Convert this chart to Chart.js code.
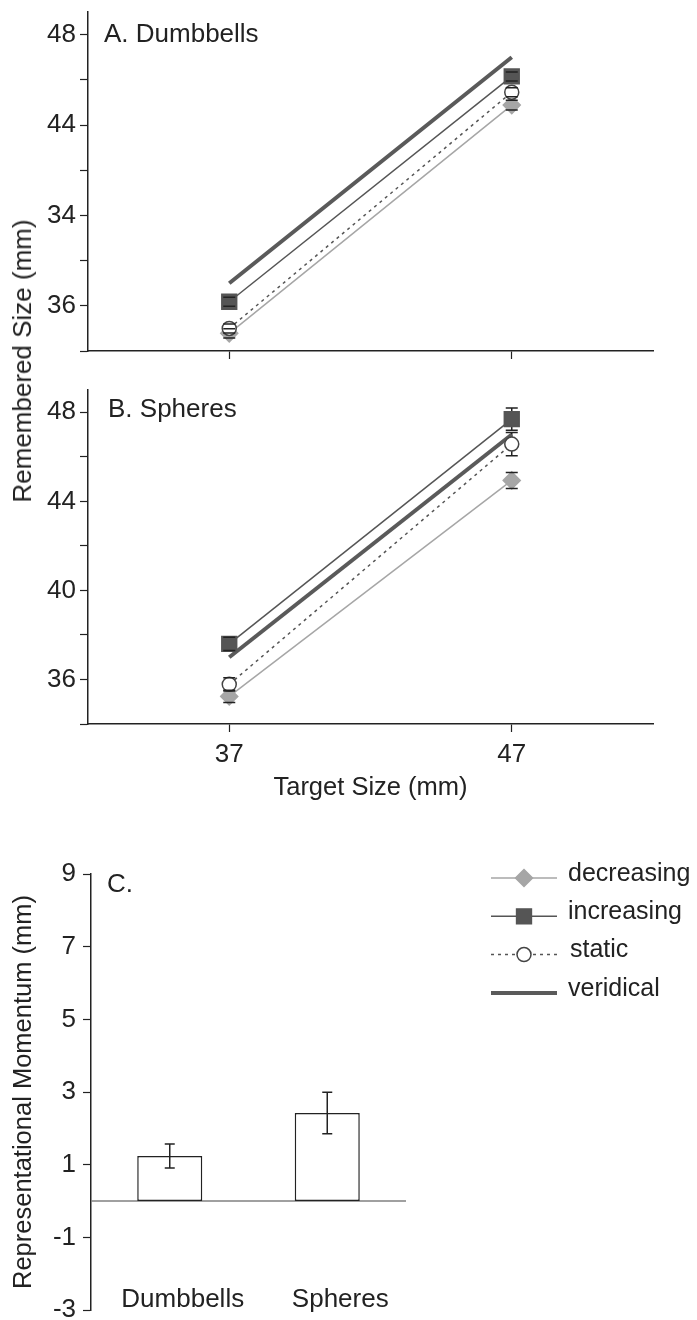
<!DOCTYPE html>
<html><head><meta charset="utf-8">
<script src="https://cdn.jsdelivr.net/npm/chart.js@4.4.1/dist/chart.umd.min.js"></script>
<style>
html,body{margin:0;padding:0;background:#fff;}
body{width:697px;height:1320px;position:relative;overflow:hidden;font-family:'Liberation Sans',Arial,sans-serif;}
canvas{position:absolute;left:0;}
#ytitleAB{position:absolute;left:22px;top:361px;transform:translate(-50%,-50%) rotate(-90deg);white-space:nowrap;font-size:26px;color:#222;line-height:1;}
</style></head><body>
<canvas id="cA" width="697" height="370" style="top:0"></canvas>
<canvas id="cB" width="697" height="450" style="top:370px"></canvas>
<canvas id="cC" width="697" height="470" style="top:850px"></canvas>
<div id="ytitleAB">Remembered Size (mm)</div>
<script>
// ---------- DATA ----------
const targetSizes = [37, 47];
const xTickLabels = ["37", "47"];
const yMajorTicks = [36, 40, 44, 48];
const yMinorTicks = [34, 38, 42, 46];
const yTickLabelsA = ["36", "34", "44", "48"];
const yTickLabelsB = ["36", "40", "44", "48"];

const dumbDecreasing = [34.78, 44.88];
const dumbDecreasingErr = [0.2, 0.22];
const dumbIncreasing = [36.18, 46.15];
const dumbIncreasingErr = [0.2, 0.2];
const dumbStatic = [35.0, 45.45];
const dumbStaticErr = [0.2, 0.2];
const dumbVeridical = [37, 47];

const sphDecreasing = [35.24, 44.94];
const sphDecreasingErr = [0.28, 0.36];
const sphIncreasing = [37.6, 47.69];
const sphIncreasingErr = [0.3, 0.5];
const sphStatic = [35.78, 46.57];
const sphStaticErr = [0.3, 0.52];
const sphVeridical = [37, 47];

const categories = ["Dumbbells", "Spheres"];
const momentum = [1.24, 2.42];
const momentumErr = [0.33, 0.57];
const momentumTicks = [-3, -1, 1, 3, 5, 7, 9];

const legendLabels = ["decreasing", "increasing", "static", "veridical"];

// ---------- STYLES ----------
const FONT = "'Liberation Sans', Arial, sans-serif";
const INK = '#222';
const TICKFONT = 26;
const styles = {
  decreasing: {color:'#a6a6a6', point:'rectRot', radius:8.5, fill:'#a6a6a6', stroke:'#a6a6a6', dash:[], width:1.5, order:3},
  increasing: {color:'#555', point:'rect', radius:10.5, fill:'#555', stroke:'#555', dash:[], width:1.5, order:2},
  static: {color:'#555', point:'circle', radius:7, fill:'#fff', stroke:'#444', dash:[3,4], width:1.5, order:1},
  veridical: {color:'#5a5a5a', point:false, radius:0, fill:'#5a5a5a', stroke:'#5a5a5a', dash:[], width:4, order:4}
};

function pts(arr){ return targetSizes.map((x,i)=>({x:x, y:arr[i]})); }
function ds(key, arr, err){
  const s = styles[key];
  return { label:key, data:pts(arr), errors:err, borderColor:s.color, borderWidth:s.width,
    borderDash:s.dash, pointStyle:s.point || 'circle', pointRadius:s.radius, pointHoverRadius:s.radius,
    pointBackgroundColor:s.fill, pointBorderColor:s.stroke, pointBorderWidth:1.5,
    fill:false, tension:0, order:s.order, clip:false };
}

function drawErr(chart, phase){
  const ctx = chart.ctx, ys = chart.scales.y;
  chart.data.datasets.forEach((d, di) => {
    if (!d.errors) return;
    const onTop = !!d.errOnTop;
    let stem, caps;
    if (onTop){ if (phase !== 'after') return; stem = true; caps = true; }
    else { stem = phase === 'before'; caps = phase === 'after'; }
    const meta = chart.getDatasetMeta(di);
    meta.data.forEach((el, i) => {
      const raw = d.data[i];
      const v = (typeof raw === 'object') ? raw.y : raw;
      const e = d.errors[i];
      const x = el.x, y1 = ys.getPixelForValue(v + e), y2 = ys.getPixelForValue(v - e);
      const hw = d.capHalf || 6;
      ctx.save(); ctx.strokeStyle = INK; ctx.lineWidth = 1.5; ctx.setLineDash([]); ctx.beginPath();
      if (stem){ ctx.moveTo(x, y1); ctx.lineTo(x, y2); }
      if (caps){ ctx.moveTo(x-hw, y1); ctx.lineTo(x+hw, y1); ctx.moveTo(x-hw, y2); ctx.lineTo(x+hw, y2); }
      ctx.stroke(); ctx.restore();
    });
  });
}
const errorBarPlugin = {
  id:'errbars',
  beforeDatasetsDraw(chart){ drawErr(chart, 'before'); },
  afterDatasetsDraw(chart){ drawErr(chart, 'after'); }
};
const panelLabelPlugin = {
  id:'panelLabel',
  afterDraw(chart, args, opts){
    if (!opts || !opts.text) return;
    const ctx = chart.ctx; ctx.save();
    ctx.font = `26px ${FONT}`; ctx.fillStyle = INK; ctx.textBaseline = 'middle'; ctx.textAlign = 'left';
    ctx.fillText(opts.text, chart.chartArea.left + opts.dx, chart.chartArea.top + opts.dy);
    ctx.restore();
  }
};

function yScaleAB(labels){
  return {
    type:'linear', min:34, max:49,
    afterBuildTicks: s => { s.ticks = yMinorTicks.concat(yMajorTicks).sort((a,b)=>a-b).map(v=>({value:v})); },
    afterFit: s => { s.width = 88; s.paddingTop = 0; s.paddingBottom = 0; },
    ticks: { autoSkip:false, padding:4, color:INK, font:{family:FONT, size:TICKFONT},
      callback: v => { const i = yMajorTicks.indexOf(v); return i >= 0 ? labels[i] : ''; } },
    grid: { drawOnChartArea:false, drawTicks:true, tickLength:8, tickColor:INK, tickWidth:1.2 },
    border: { display:true, color:INK, width:1.5 }
  };
}
function xScaleAB(showLabels, height){
  return {
    type:'linear', min:32, max:52,
    afterBuildTicks: s => { s.ticks = targetSizes.map(v=>({value:v})); },
    afterFit: s => { s.height = height; s.paddingLeft = 0; s.paddingRight = 0; },
    ticks: { display:showLabels, autoSkip:false, maxRotation:0, padding:7, color:INK, font:{family:FONT, size:TICKFONT},
      callback: v => { const i = targetSizes.indexOf(v); return i >= 0 ? xTickLabels[i] : ''; } },
    grid: { drawOnChartArea:false, drawTicks:true, tickLength:8, tickColor:INK, tickWidth:1.2 },
    border: { display:true, color:INK, width:1.5 },
    title: { display:showLabels, text:'Target Size (mm)', color:INK, font:{family:FONT, size:25.5}, padding:{top:0, bottom:17} }
  };
}
const common = { responsive:false, animation:false, devicePixelRatio:1, events:[],
  plugins:{ legend:{display:false}, tooltip:{enabled:false} } };

new Chart(document.getElementById('cA'), {
  type:'line',
  data:{ datasets:[ ds('decreasing', dumbDecreasing, dumbDecreasingErr), ds('increasing', dumbIncreasing, dumbIncreasingErr),
    ds('static', dumbStatic, dumbStaticErr), ds('veridical', dumbVeridical, null) ] },
  options: Object.assign({}, common, {
    layout:{ padding:{left:0, right:44, top:12, bottom:0} },
    plugins:{ legend:{display:false}, tooltip:{enabled:false}, panelLabel:{text:'A. Dumbbells', dx:16, dy:23} },
    scales:{ x:xScaleAB(false, 19), y:yScaleAB(yTickLabelsA) }
  }),
  plugins:[errorBarPlugin, panelLabelPlugin]
});

new Chart(document.getElementById('cB'), {
  type:'line',
  data:{ datasets:[ ds('decreasing', sphDecreasing, sphDecreasingErr), ds('increasing', sphIncreasing, sphIncreasingErr),
    ds('static', sphStatic, sphStaticErr), ds('veridical', sphVeridical, null) ] },
  options: Object.assign({}, common, {
    layout:{ padding:{left:0, right:44, top:20, bottom:0} },
    plugins:{ legend:{display:false}, tooltip:{enabled:false}, panelLabel:{text:'B. Spheres', dx:20, dy:20} },
    scales:{ x:xScaleAB(true, 96), y:yScaleAB(yTickLabelsB) }
  }),
  plugins:[errorBarPlugin, panelLabelPlugin]
});

const zeroLinePlugin = {
  id:'zeroLine',
  beforeDatasetsDraw(chart){
    const ctx = chart.ctx, y = chart.scales.y.getPixelForValue(0), a = chart.chartArea;
    ctx.save(); ctx.strokeStyle = '#808080'; ctx.lineWidth = 1.5; ctx.beginPath();
    ctx.moveTo(a.left, y); ctx.lineTo(a.right, y); ctx.stroke(); ctx.restore();
  }
};
const catLabelPlugin = {
  id:'catLabels',
  afterDraw(chart){
    const ctx = chart.ctx, xs = chart.scales.x;
    ctx.save(); ctx.font = `26px ${FONT}`; ctx.fillStyle = INK; ctx.textAlign = 'center'; ctx.textBaseline = 'middle';
    categories.forEach((c, i) => ctx.fillText(c, xs.getPixelForValue(i) + 13, 450));
    ctx.restore();
  }
};
const legendPlugin = {
  id:'customLegend',
  afterDraw(chart){
    const ctx = chart.ctx;
    const x0 = 491, x1 = 557, xm = 524, tx = 568, y0 = 28, step = 38.3;
    legendLabels.forEach((key, i) => {
      const s = styles[key], y = y0 + i * step;
      ctx.save();
      ctx.strokeStyle = s.color; ctx.lineWidth = s.width; ctx.setLineDash(s.dash);
      ctx.beginPath(); ctx.moveTo(x0, y); ctx.lineTo(x1, y); ctx.stroke();
      ctx.setLineDash([]);
      if (s.point){
        ctx.fillStyle = s.fill; ctx.strokeStyle = s.stroke; ctx.lineWidth = 1.5;
        Chart.helpers.drawPoint(ctx, {pointStyle:s.point, radius:s.radius, borderWidth:1.5, rotation:0}, xm, y);
      }
      ctx.font = `25px ${FONT}`; ctx.fillStyle = INK; ctx.textAlign = 'left'; ctx.textBaseline = 'middle';
      ctx.fillText(key, tx + (key === 'static' ? 2 : 0), y - 4);
      ctx.restore();
    });
  }
};

new Chart(document.getElementById('cC'), {
  type:'bar',
  data:{ labels:categories, datasets:[{ data:momentum, errors:momentumErr, errOnTop:true, capHalf:5, backgroundColor:'#fff', borderColor:INK,
    borderWidth:1.5, borderSkipped:false, barPercentage:0.413, categoryPercentage:1 }] },
  options: Object.assign({}, common, {
    layout:{ padding:{left:0, right:291, top:24, bottom:10} },
    plugins:{ legend:{display:false}, tooltip:{enabled:false}, panelLabel:{text:'C.', dx:16, dy:11} },
    scales:{
      x:{ type:'category', display:false, offset:true },
      y:{ type:'linear', min:-3, max:9,
        afterBuildTicks: s => { s.ticks = momentumTicks.map(v=>({value:v})); },
        afterFit: s => { s.width = 91; s.paddingTop = 0; s.paddingBottom = 0; },
        ticks:{ autoSkip:false, padding:7, color:INK, font:{family:FONT, size:TICKFONT}, callback: v => String(v) },
        grid:{ drawOnChartArea:false, drawTicks:true, tickLength:8, tickColor:INK, tickWidth:1.2 },
        border:{ display:true, color:INK, width:1.5 },
        title:{ display:true, text:'Representational Momentum (mm)', color:INK, font:{family:FONT, size:25.5}, padding:{top:9, bottom:0} }
      }
    }
  }),
  plugins:[zeroLinePlugin, errorBarPlugin, catLabelPlugin, legendPlugin, panelLabelPlugin]
});
</script>
</body></html>
